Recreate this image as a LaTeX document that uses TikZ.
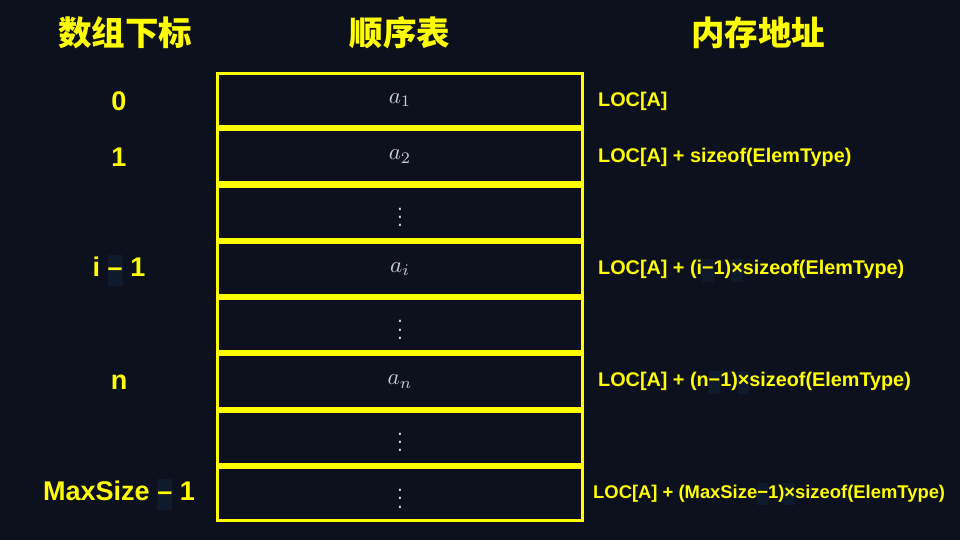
\RequirePackage{fix-cm}
\documentclass[tikz,border=0pt]{standalone}
\usepackage{fontspec}
\usepackage{graphicx}
\setmainfont{Liberation Sans}
\newfontfamily\cjk{Noto Sans CJK SC}
\definecolor{bg}{HTML}{0D111E}
\definecolor{ylw}{HTML}{FFFF00}
\definecolor{mathgray}{HTML}{C9CED8}
\definecolor{glyphbg}{HTML}{0F1A2C}
\newcommand{\gbox}[1]{{\fboxsep=0pt\colorbox{glyphbg}{\strut #1}}}
\newcommand{\bigvdots}{\raisebox{3pt}{\scalebox{2.1}{\normalsize$\vdots$}}}
\newcommand{\elemm}[1]{\scalebox{2.3}{\normalsize$#1$}}
\tikzset{
  cellbox/.style={draw=ylw, line width=3pt, minimum width=365pt, minimum height=53.25pt, inner sep=0pt},
  header/.style={text=ylw, font=\cjk\bfseries\fontsize{33.5}{38}\selectfont},
  idx/.style={text=ylw, font=\bfseries\fontsize{27}{31}\selectfont},
  addr/.style={text=ylw, font=\bfseries\fontsize{19.8}{23}\selectfont, anchor=west, inner sep=0pt},
  elem/.style={text=mathgray, inner sep=0pt}
}
\begin{document}
\begin{tikzpicture}[x=1pt,y=-1pt]
\fill[bg] (0,0) rectangle (960,540);
\useasboundingbox (0,0) rectangle (960,540);
% headers
\node[header] (h1) at (125,33) {数组下标};
\node[header] (h2) at (400,33) {顺序表};
\node[header] (h3) at (758,33) {内存地址};
% cells
\foreach \i/\t in {0/{\elemm{a_1}},1/{\elemm{a_2}},2/{\bigvdots},3/{\elemm{a_i}},4/{\bigvdots},5/{\elemm{a_n}},6/{\bigvdots},7/{\bigvdots}}{
  \node[cellbox] (c\i) at (400,{72+56.25*\i+28.125}) {};
  \node[elem] (e\i) at (c\i.center) {\t};
}
% index labels
\node[idx] (i0) at (119,101) {0};
\node[idx] (i1) at (119,157) {1};
\node[idx] (i3) at (119,270) {i \gbox{–} 1};
\node[idx] (i5) at (119,382) {n};
\node[idx] (i7) at (119,494) {MaxSize \gbox{–} 1};
% addresses
\node[addr] (a0) at (598,101) {LOC[A]};
\node[addr] (a1) at (598,157) {LOC[A] + sizeof(ElemType)};
\node[addr] (a3) at (598,270) {LOC[A] + (i\gbox{−}1)\gbox{×}sizeof(ElemType)};
\node[addr] (a5) at (598,382) {LOC[A] + (n\gbox{−}1)\gbox{×}sizeof(ElemType)};
\node[addr, font=\bfseries\fontsize{18.4}{22}\selectfont] (a7) at (593,494) {LOC[A] + (MaxSize\gbox{−}1)\gbox{×}sizeof(ElemType)};
\end{tikzpicture}
\end{document}
